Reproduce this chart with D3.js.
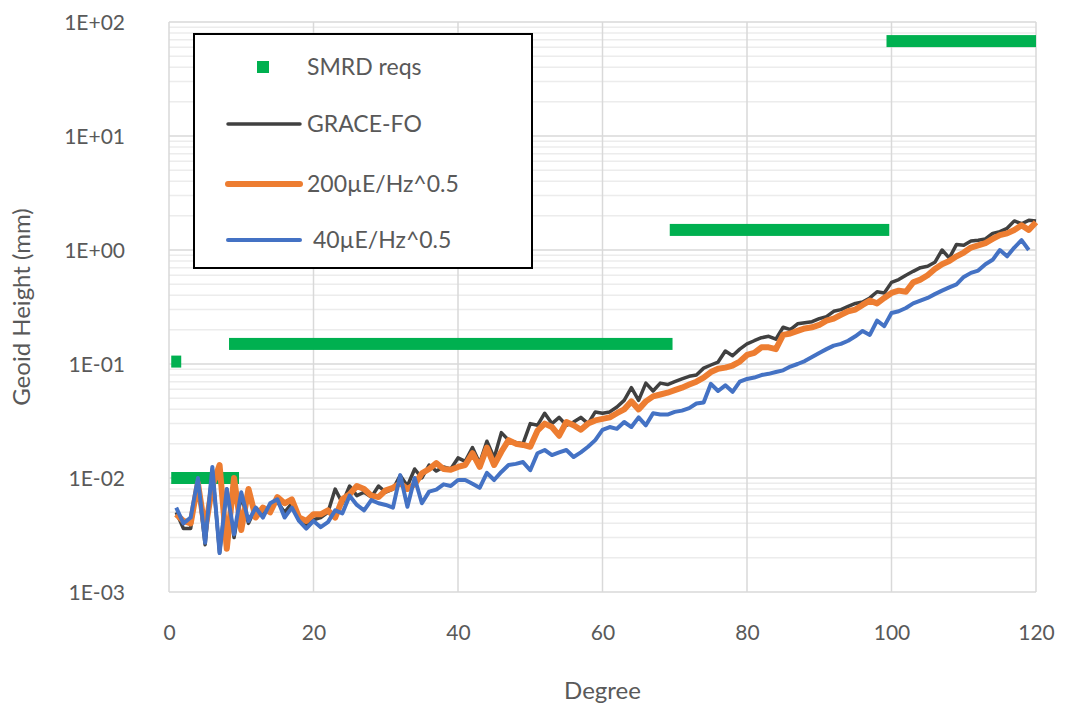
<!DOCTYPE html>
<html>
<head>
<meta charset="utf-8">
<script src="https://cdn.jsdelivr.net/npm/d3@7"></script>
<style>
  body { margin: 0; background: #fff; }
  svg text { font-family: Lato, "Open Sans", sans-serif; fill: #595959; }
</style>
</head>
<body>
<div id="chart"></div>
<script>
// degree 1..120 for GRACE-FO and 200uE, 1..119 for 40uE
let graceFO = [
  0.0050,0.0036,0.0036,0.0095,0.0026,0.0120,0.0022,0.0080,0.0030,0.0070,0.0040,0.0055,0.0048,0.0058,0.0062,0.0050,0.0060,0.0045,0.0038,0.0043,
  0.0045,0.0050,0.0080,0.0060,0.0085,0.0070,0.0075,0.0068,0.0085,0.0075,0.0080,0.0105,0.0085,0.0120,0.0100,0.0130,0.0115,0.0125,0.0120,0.0150,
  0.0140,0.0185,0.0135,0.0210,0.0150,0.0250,0.0215,0.0205,0.0200,0.0300,0.0290,0.0370,0.0300,0.0340,0.0290,0.0310,0.0340,0.0300,0.0380,0.0370,
  0.038,0.042,0.048,0.062,0.048,0.068,0.058,0.068,0.066,0.070,0.074,0.078,0.080,0.092,0.098,0.104,0.130,0.118,0.135,0.150,
  0.16,0.17,0.175,0.165,0.21,0.20,0.225,0.23,0.235,0.25,0.26,0.29,0.30,0.32,0.34,0.35,0.38,0.43,0.42,0.52,
  0.55,0.60,0.65,0.70,0.72,0.78,1.00,0.85,1.12,1.10,1.20,1.22,1.25,1.40,1.45,1.55,1.80,1.70,1.82,1.80
];
let ue200 = [
  0.0048,0.0042,0.0040,0.0090,0.0035,0.0085,0.0130,0.0024,0.0100,0.0035,0.0080,0.0045,0.0055,0.0050,0.0068,0.0060,0.0065,0.0045,0.0042,0.0048,
  0.0048,0.0052,0.0045,0.0065,0.0072,0.0085,0.0080,0.0070,0.0068,0.0078,0.0082,0.0090,0.0080,0.0088,0.0110,0.0120,0.0135,0.0120,0.0118,0.0125,
  0.0130,0.0165,0.0125,0.0185,0.0130,0.0170,0.0215,0.0200,0.0195,0.0188,0.0260,0.0300,0.0280,0.0235,0.0310,0.0290,0.0265,0.0300,0.0320,0.0330,
  0.034,0.037,0.040,0.047,0.040,0.047,0.052,0.054,0.056,0.059,0.062,0.066,0.070,0.076,0.085,0.091,0.093,0.097,0.105,0.120,
  0.125,0.14,0.14,0.135,0.18,0.185,0.195,0.205,0.21,0.22,0.24,0.25,0.27,0.29,0.30,0.33,0.36,0.34,0.38,0.42,
  0.44,0.43,0.52,0.55,0.60,0.68,0.75,0.80,0.88,0.95,1.05,1.10,1.15,1.25,1.35,1.40,1.50,1.65,1.50,1.75
];
let ue40 = [
  0.0055,0.0040,0.0045,0.0100,0.0027,0.0125,0.0022,0.0080,0.0032,0.0075,0.0042,0.0055,0.0045,0.0060,0.0065,0.0045,0.0055,0.0042,0.0036,0.0042,
  0.0037,0.0041,0.0052,0.0049,0.0070,0.0058,0.0052,0.0064,0.0060,0.0058,0.0055,0.0106,0.0056,0.0100,0.0060,0.0076,0.0079,0.0088,0.0085,0.0096,
  0.0096,0.0089,0.0082,0.0111,0.0096,0.0113,0.0130,0.0133,0.0138,0.0117,0.0165,0.0176,0.0159,0.0168,0.0176,0.0153,0.0168,0.0188,0.0215,0.0264,
  0.028,0.027,0.031,0.028,0.034,0.029,0.037,0.036,0.036,0.038,0.039,0.041,0.045,0.046,0.067,0.058,0.065,0.057,0.070,0.074,
  0.076,0.080,0.082,0.085,0.088,0.095,0.100,0.106,0.115,0.125,0.135,0.145,0.150,0.160,0.175,0.195,0.180,0.240,0.215,0.28,
  0.29,0.31,0.34,0.36,0.38,0.41,0.44,0.47,0.50,0.58,0.63,0.66,0.75,0.82,1.00,0.88,1.05,1.22,1.00
];

// SMRD requirement steps (degree from..to, value)
let smrdFrom  = [1, 1, 9, 70, 100];
let smrdTo    = [1, 9, 69, 99, 120];
let smrdValue = [0.105, 0.01, 0.15, 1.5, 68];

let xTicks = [0, 20, 40, 60, 80, 100, 120];
let yTicks = [1e-3, 1e-2, 1e-1, 1e0, 1e1, 1e2];
let legendLabels = ["SMRD reqs", "GRACE-FO", "200\u00b5E/Hz^0.5", " 40\u00b5E/Hz^0.5"];

let W = 1071, H = 717;
let svg = d3.select("#chart").append("svg").attr("width", W).attr("height", H);

let x = d3.scaleLinear().domain([0, 120]).range([169, 1036]);
let y = d3.scaleLog().domain([1e-3, 1e2]).range([592, 22]);

// minor grid
let minor = [];
yTicks.slice(0, -1).forEach(d => { for (let k = 2; k < 10; k++) minor.push(d * k); });
svg.append("g").selectAll("line").data(minor).enter().append("line")
  .attr("x1", x(0)).attr("x2", x(120))
  .attr("y1", d => y(d)).attr("y2", d => y(d))
  .attr("stroke", "#ececec").attr("stroke-width", 1.5);

// major grid
svg.append("g").selectAll("line").data(yTicks).enter().append("line")
  .attr("x1", x(0)).attr("x2", x(120))
  .attr("y1", d => y(d)).attr("y2", d => y(d))
  .attr("stroke", "#d9d9d9").attr("stroke-width", 1.5);
svg.append("g").selectAll("line").data(xTicks).enter().append("line")
  .attr("x1", d => x(d)).attr("x2", d => x(d))
  .attr("y1", y(1e2)).attr("y2", y(1e-3))
  .attr("stroke", "#d9d9d9").attr("stroke-width", 1.5);

// axes (labels only)
let fmt = d => { let e = Math.round(Math.log10(d)); return "1E" + (e < 0 ? "-" : "+") + String(Math.abs(e)).padStart(2, "0"); };
let yAxis = svg.append("g").attr("transform", `translate(${x(0) - 41},0)`)
  .call(d3.axisLeft(y).tickValues(yTicks).tickFormat(fmt).tickSize(0));
yAxis.select(".domain").remove();
yAxis.selectAll("text").style("font-size", "21px").attr("dy", "0.35em");

let xAxis = svg.append("g").attr("transform", `translate(0,${y(1e-3) + 30})`)
  .call(d3.axisBottom(x).tickValues(xTicks).tickSize(0));
xAxis.select(".domain").remove();
xAxis.selectAll("text").style("font-size", "21px").attr("dy", "0.71em");

svg.append("text").attr("x", (x(0) + x(120)) / 2).attr("y", 699)
  .attr("text-anchor", "middle").style("font-size", "24px").text("Degree");
svg.append("text").attr("transform", `translate(30,${(y(1e2) + y(1e-3)) / 2}) rotate(-90)`)
  .attr("text-anchor", "middle").style("font-size", "24px").text("Geoid Height (mm)");

// SMRD bars
svg.append("defs").append("clipPath").attr("id", "clip").append("rect")
  .attr("x", x(0)).attr("y", y(1e2) - 10).attr("width", x(120) - x(0)).attr("height", y(1e-3) - y(1e2) + 20);
let half = 5;
svg.append("g").attr("clip-path", "url(#clip)").selectAll("rect").data(smrdValue).enter().append("rect")
  .attr("x", (d, i) => x(smrdFrom[i]) - half)
  .attr("width", (d, i) => x(smrdTo[i]) - x(smrdFrom[i]) + 2 * half)
  .attr("y", d => y(d) - 6).attr("height", 12)
  .attr("fill", "#00B050");

// lines
let line = d3.line().x((d, i) => x(i + 1)).y(d => y(d));
svg.append("path").attr("d", line(graceFO)).attr("fill", "none")
  .attr("stroke", "#404040").attr("stroke-width", 3.5).attr("stroke-linejoin", "round");
svg.append("path").attr("d", line(ue200)).attr("fill", "none")
  .attr("stroke", "#ED7D31").attr("stroke-width", 6).attr("stroke-linejoin", "round");
svg.append("path").attr("d", line(ue40)).attr("fill", "none")
  .attr("stroke", "#4472C4").attr("stroke-width", 4).attr("stroke-linejoin", "round");

// legend
let lg = svg.append("g");
lg.append("rect").attr("x", 194).attr("y", 34).attr("width", 338).attr("height", 234)
  .attr("fill", "#fff").attr("stroke", "#000").attr("stroke-width", 2);
let rowY = [67, 124, 184, 240];
lg.append("rect").attr("x", 257).attr("y", rowY[0] - 6).attr("width", 12).attr("height", 12).attr("fill", "#00B050");
let legColors = ["#404040", "#ED7D31", "#4472C4"];
let legWidths = [3.5, 6, 4];
legColors.forEach((c, i) => {
  lg.append("line").attr("x1", 228).attr("x2", 300).attr("y1", rowY[i + 1]).attr("y2", rowY[i + 1])
    .attr("stroke", c).attr("stroke-width", legWidths[i]).attr("stroke-linecap", "round");
});
lg.selectAll("text").data(legendLabels).enter().append("text")
  .attr("x", 307).attr("y", (d, i) => rowY[i]).attr("dy", "0.35em")
  .style("font-size", "23px").style("white-space", "pre").text(d => d);
</script>
</body>
</html>
